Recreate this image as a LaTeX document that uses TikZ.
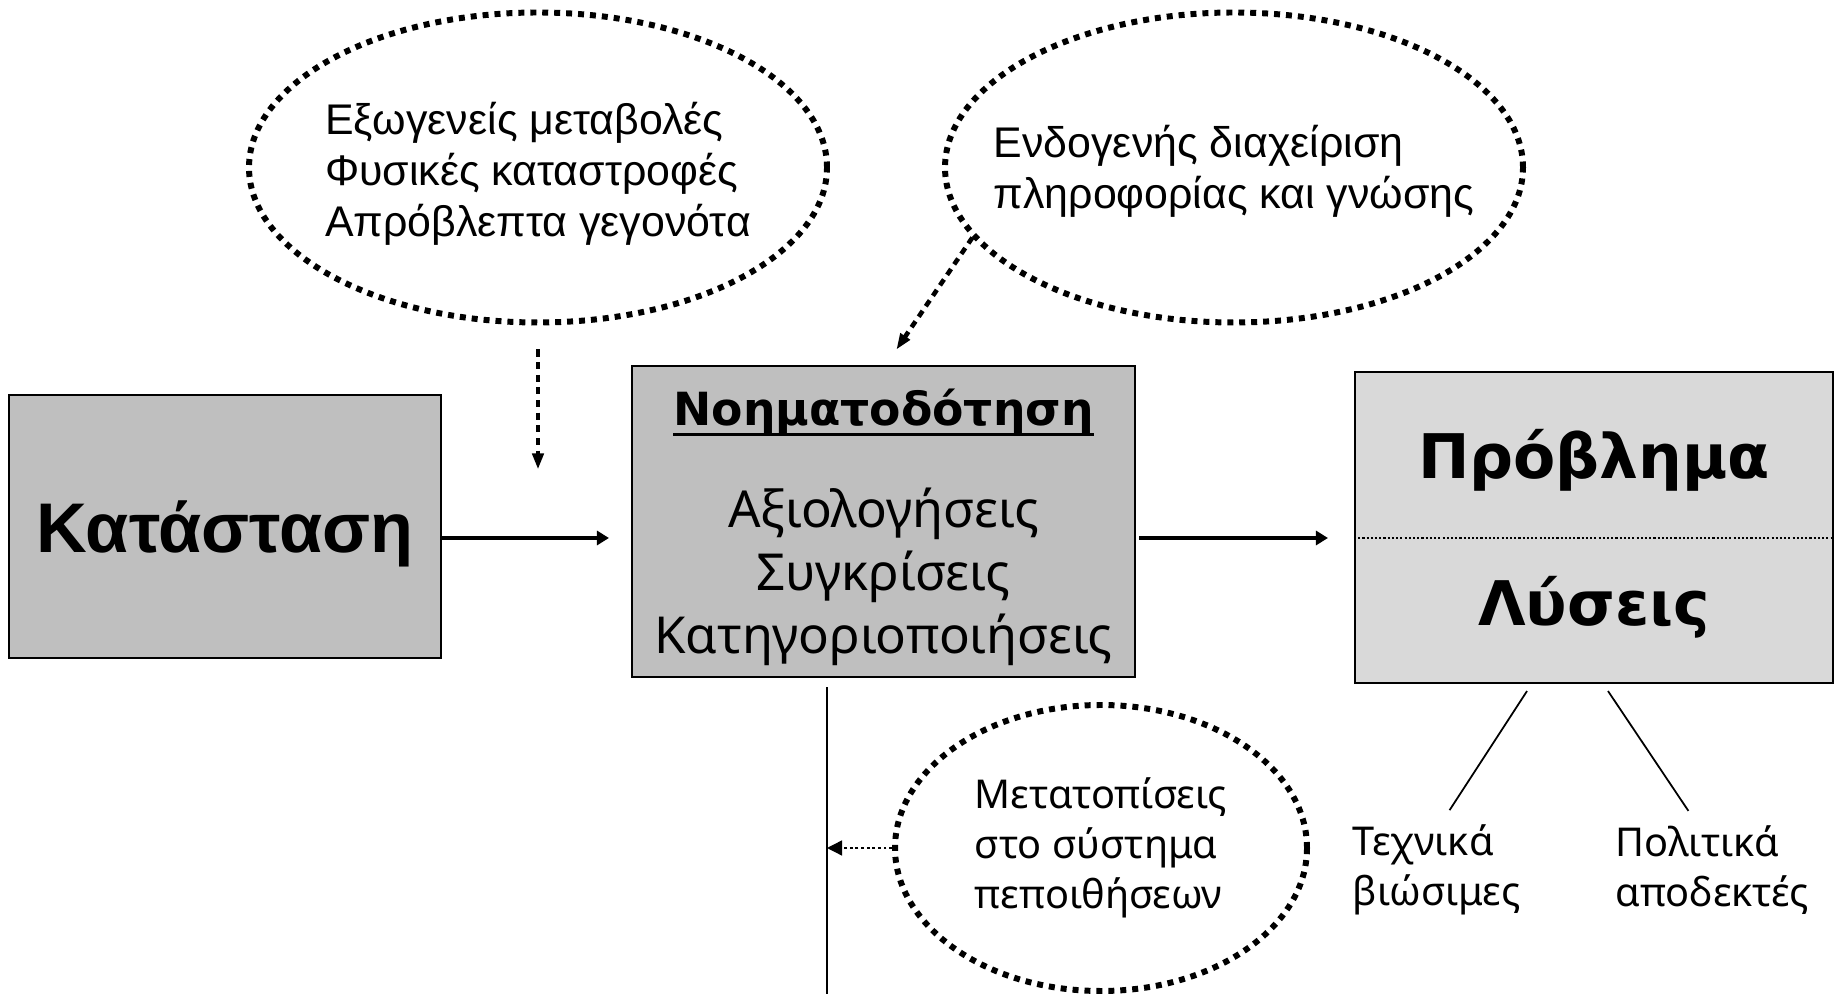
\documentclass[tikz,border=0pt]{standalone}
\usepackage{fontspec}
\setmainfont{Liberation Sans}
\newfontfamily\humsans{Noto Sans}
\newfontfamily\humbold{DejaVu Sans}
\newcommand\headline[1]{\setbox0\hbox{#1}\rlap{\rule[-0.22em]{\wd0}{0.065em}}\box0}
\usetikzlibrary{arrows.meta,positioning,shapes.geometric,calc}

\begin{document}
\begin{tikzpicture}
[inner sep=0pt,
box/.style={rectangle,draw=black,line width=0.6pt,text depth=0pt},
darkbox/.style={box,fill=black!25},
lightbox/.style={box,fill=black!15},
cloud/.style={ellipse,draw,line width=1.7pt,dash pattern=on 1.7pt off 1.7pt},
note/.style={align=left,font=\fontsize{12.2}{14.5}\selectfont},
humnote/.style={align=left,font=\humsans\fontsize{11.3}{14.2}\selectfont},
flow/.style={-{Triangle[length=0.12cm,width=0.14cm]},line width=1pt},
hint/.style={-{Triangle[length=0.16cm,width=0.11cm]},line width=1.3pt,dash pattern=on 2pt off 1.6pt},
faint/.style={-{Triangle[length=0.15cm,width=0.15cm]},line width=0.4pt,dash pattern=on 0.8pt off 0.8pt},
tie/.style={line width=0.5pt}]
\useasboundingbox (0,0) rectangle (18.39,-9.94);
% main boxes
\node[darkbox,minimum width=4.32cm,minimum height=2.63cm,
font=\fontsize{20}{24}\selectfont\bfseries] (state) at (2.25,-5.265) {Κατάσταση};
\node[darkbox,minimum width=5.03cm,minimum height=3.11cm,align=center,
font=\humsans\fontsize{14.5}{18}\selectfont] (sense) at (8.835,-5.215)
{{\humbold\bfseries\fontsize{13}{18}\selectfont\headline{Νοηματοδότηση}}\\[11pt] Αξιολογήσεις\\ Συγκρίσεις\\ Κατηγοριοποιήσεις};
\node[lightbox,minimum width=4.78cm,minimum height=3.11cm,align=center,
font=\humbold\bfseries\fontsize{17.5}{42}\selectfont] (problem) at (15.94,-5.275) {Πρόβλημα\\Λύσεις};
\draw[line width=0.5pt,dash pattern=on 0.6pt off 0.6pt]
($(problem.west)+(0,-0.105)$) -- ($(problem.east)+(0,-0.105)$);
% clouds
\node[cloud,minimum width=5.78cm,minimum height=3.1cm] (external) at (5.38,-1.675) {};
\node[note,yshift=-0.06cm] (external text) at (external) {Εξωγενείς μεταβολές\\Φυσικές καταστροφές\\Απρόβλεπτα γεγονότα};
\node[cloud,minimum width=5.78cm,minimum height=3.1cm] (internal) at (12.34,-1.675) {};
\node[note,yshift=-0.04cm] (internal text) at (internal) {Ενδογενής διαχείριση\\πληροφορίας και γνώσης};
\node[cloud,minimum width=4.12cm,minimum height=2.86cm] (belief) at (11.01,-8.48) {};
\node[humnote] (belief text) at (belief) {Μετατοπίσεις\\στο σύστημα\\πεποιθήσεων};
% solutions
\node[humnote,anchor=west] (tech) at (13.52,-8.70) {Τεχνικά\\βιώσιμες};
\node[humnote,anchor=west] (polit) at (16.15,-8.70) {Πολιτικά\\αποδεκτές};
% connectors
\coordinate (flowline) at (0,-5.38);
\coordinate (drop) at (8.27,-9.94);
\draw[flow,shorten >=0.22cm] (state.east |- flowline) -- (sense.west |- flowline);
\draw[flow,shorten <=0.03cm,shorten >=0.26cm] (sense.east |- flowline) -- (problem.west |- flowline);
\draw[hint,shorten <=0.24cm] (external.south) -- ++(0,-1.44);
\draw[hint] (internal.195) -- ++(-0.76,-1.12);
\draw[tie,shorten <=0.09cm] (drop |- sense.south) -- (drop);
\draw[faint] (belief.west) -- (belief.west -| drop);
\draw[tie] ([xshift=-0.67cm,yshift=-0.07cm]problem.south) -- ([xshift=0.13cm,yshift=0.14cm]tech.north);
\draw[tie] ([xshift=0.14cm,yshift=-0.07cm]problem.south) -- ([xshift=-0.24cm,yshift=0.14cm]polit.north);
\end{tikzpicture}
\end{document}
